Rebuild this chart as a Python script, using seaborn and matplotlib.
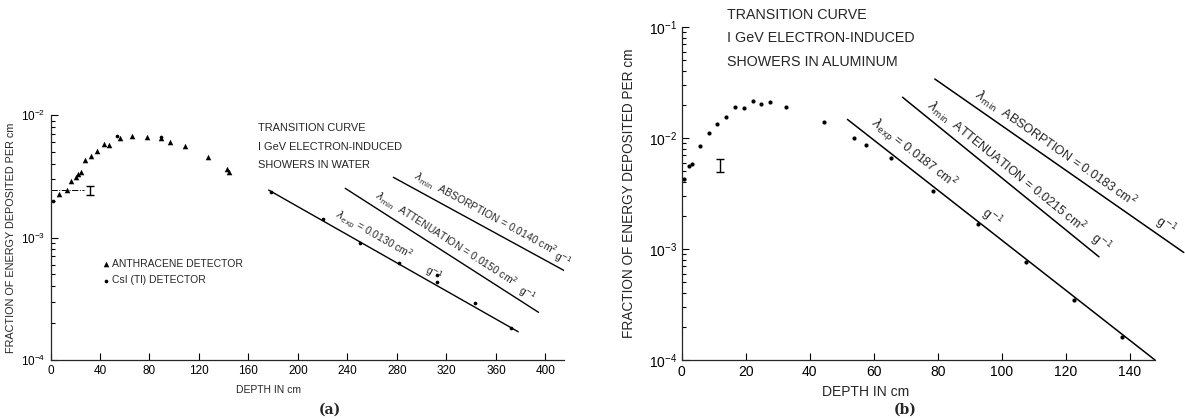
import numpy as np
import pandas as pd
import matplotlib
matplotlib.use("Agg")
import matplotlib.pyplot as plt
import seaborn as sns
from matplotlib.ticker import LogLocator, NullFormatter

# ---- panel (a): water ----
anth_depth = [7.2, 13.2, 16.8, 20.9, 22.2, 24.7, 28.2, 32.9, 37.8, 43.2, 47.6,
              56.3, 65.8, 77.9, 89, 96.4, 108.6, 127.2, 143, 144]
anth_frac = [2.27e-3, 2.44e-3, 2.89e-3, 3.1e-3, 3.3e-3, 3.44e-3, 4.3e-3, 4.66e-3,
             5.1e-3, 5.8e-3, 5.7e-3, 6.5e-3, 6.7e-3, 6.6e-3, 6.5e-3, 6.0e-3,
             5.6e-3, 4.5e-3, 3.6e-3, 3.4e-3]
csi_depth = [2.3, 53.6, 89, 178.2, 219.9, 250.5, 281.8, 312, 312, 343, 372.4]
csi_frac = [2.0e-3, 6.8e-3, 6.6e-3, 2.37e-3, 1.41e-3, 9.1e-4, 6.2e-4, 4.3e-4,
            4.9e-4, 2.9e-4, 1.82e-4]

water_exp_x, water_exp_y = [176.3, 378], [2.44e-3, 1.70e-4]
water_att_x, water_att_y = [238.2, 394.4], [2.52e-3, 2.45e-4]
water_abs_x, water_abs_y = [277.1, 416.8], [3.10e-3, 5.26e-4]
water_err_x, water_err_y, water_err = 31.7, 2.44e-3, 0.2e-3
water_ref_x, water_ref_y = [0, 27], [2.44e-3, 2.44e-3]

# ---- panel (b): aluminum ----
al_depth = [0.8, 2.3, 3.3, 5.8, 8.5, 11.0, 13.8, 16.7, 19.5, 22.2, 24.9, 27.6,
            32.6, 44.4, 53.8, 57.6, 65.4, 78.5, 92.5, 107.5, 122.6, 137.7]
al_frac = [4.27e-3, 5.6e-3, 5.8e-3, 8.4e-3, 1.10e-2, 1.35e-2, 1.55e-2, 1.91e-2,
           1.86e-2, 2.17e-2, 2.01e-2, 2.09e-2, 1.89e-2, 1.38e-2, 1.01e-2, 8.6e-3,
           6.65e-3, 3.35e-3, 1.68e-3, 7.6e-4, 3.47e-4, 1.62e-4]

al_exp_x, al_exp_y = [51.8, 147.9], [1.47e-2, 1.0e-4]
al_att_x, al_att_y = [69.0, 130.4], [2.33e-2, 8.5e-4]
al_abs_x, al_abs_y = [79.1, 156.9], [3.4e-2, 9.3e-4]
al_err_x, al_err_y, al_err = 12.0, 5.7e-3, 0.8e-3

sns.set_style("ticks")
plt.rcParams['font.family'] = ['Liberation Sans', 'DejaVu Sans']
plt.rcParams['mathtext.fontset'] = 'dejavusans'

W, H = 1185, 419
fig = plt.figure(figsize=(W / 100, H / 100), dpi=100)
axa = fig.add_axes([50.5 / W, 59 / H, 513.5 / W, 245 / H])
axb = fig.add_axes([681.7 / W, 59 / H, 473.6 / W, 333 / H])


def style_axis(ax, size):
    ax.set_yscale('log')
    ax.yaxis.set_major_locator(LogLocator(base=10))
    ax.yaxis.set_minor_locator(LogLocator(base=10, subs=np.arange(2, 10)))
    ax.yaxis.set_minor_formatter(NullFormatter())
    ax.tick_params(which='both', direction='in', width=0.8, colors='black',
                   labelsize=size)
    ax.tick_params(which='major', length=5)
    ax.tick_params(which='minor', length=3)
    sns.despine(ax=ax)
    for s in ('left', 'bottom'):
        ax.spines[s].set_linewidth(0.9)


def line_label(ax, xs, ys, depth, text, dist, size):
    ly = 10 ** np.interp(depth, xs, np.log10(ys))
    p0 = ax.transData.transform((xs[0], ys[0]))
    p1 = ax.transData.transform((xs[1], ys[1]))
    ang = np.degrees(np.arctan2(p1[1] - p0[1], p1[0] - p0[0]))
    dx = -np.sin(np.radians(ang)) * dist
    dy = np.cos(np.radians(ang)) * dist
    ax.annotate(text, (depth, ly), xytext=(dx, dy), textcoords='offset points',
                rotation=ang, rotation_mode='anchor', ha='left', va='bottom',
                fontsize=size, annotation_clip=False)


# ---------- panel (a) ----------
axa.set_xlim(0, 415)
axa.set_ylim(1e-4, 1e-2)
style_axis(axa, 8.5)
axa.set_xticks(np.arange(0, 401, 40))

anth = pd.DataFrame({'depth': anth_depth, 'frac': anth_frac})
csi = pd.DataFrame({'depth': csi_depth, 'frac': csi_frac})
sns.scatterplot(data=anth, x='depth', y='frac', marker='^', s=16, color='black',
                edgecolor='black', linewidth=0, ax=axa, label='ANTHRACENE DETECTOR')
sns.scatterplot(data=csi, x='depth', y='frac', marker='o', s=7, color='black',
                edgecolor='black', linewidth=0, ax=axa, label='CsI (Tl) DETECTOR')

for xs, ys in [(water_exp_x, water_exp_y), (water_att_x, water_att_y),
               (water_abs_x, water_abs_y)]:
    axa.plot(xs, ys, color='black', lw=1.0)
axa.plot(water_ref_x, water_ref_y, color='black', lw=0.7, ls='-.')
axa.errorbar(water_err_x, water_err_y, yerr=water_err, fmt='none', ecolor='black',
             elinewidth=1, capsize=3)

line_label(axa, water_exp_x, water_exp_y, 226, r'$\lambda_{\rm exp}$ = 0.0130 cm$^2$', 3, 7.5)
line_label(axa, water_exp_x, water_exp_y, 300, r'g$^{-1}$', 1, 7.5)
line_label(axa, water_att_x, water_att_y, 258, r'$\lambda_{\rm min}$  ATTENUATION = 0.0150 cm$^2$', 3, 7.5)
line_label(axa, water_att_x, water_att_y, 375, r'g$^{-1}$', 1, 7.5)
line_label(axa, water_abs_x, water_abs_y, 290, r'$\lambda_{\rm min}$  ABSORPTION = 0.0140 cm$^2$', 3, 7.5)
line_label(axa, water_abs_x, water_abs_y, 404, r'g$^{-1}$', 1, 7.5)

axa.legend(loc='upper left', bbox_to_anchor=(0.08, 0.45), frameon=False,
           fontsize=7.5, handletextpad=0.1, markerscale=1.0, labelspacing=0.6,
           handlelength=1.0)
axa.set_xlabel('DEPTH IN cm', fontsize=7.5)
axa.xaxis.set_label_coords(0.424, -0.1)
axa.set_ylabel('FRACTION OF ENERGY DEPOSITED PER cm', fontsize=7.8)
axa.yaxis.set_label_coords(-0.068, 0.5)

for i, t in enumerate(['TRANSITION CURVE', 'I GeV ELECTRON-INDUCED', 'SHOWERS IN WATER']):
    fig.text(258 / W, 1 - (128 + 18.5 * i) / H, t, fontsize=7.9, va='center')

# ---------- panel (b) ----------
axb.set_xlim(0, 148)
axb.set_ylim(1e-4, 1e-1)
style_axis(axb, 10)
axb.set_xticks(np.arange(0, 141, 20))

al = pd.DataFrame({'depth': al_depth, 'frac': al_frac})
sns.scatterplot(data=al, x='depth', y='frac', marker='o', s=9, color='black',
                edgecolor='black', linewidth=0, ax=axb, legend=False)
for xs, ys in [(al_exp_x, al_exp_y), (al_att_x, al_att_y), (al_abs_x, al_abs_y)]:
    axb.plot(xs, ys, color='black', lw=1.1, clip_on=False)
axb.errorbar(al_err_x, al_err_y, yerr=al_err, fmt='none', ecolor='black',
             elinewidth=1, capsize=3)

line_label(axb, al_exp_x, al_exp_y, 57, r'$\lambda_{\rm exp}$ = 0.0187 cm$^2$', 2, 9)
line_label(axb, al_exp_x, al_exp_y, 92, r'g$^{-1}$', 1, 9)
line_label(axb, al_att_x, al_att_y, 75, r'$\lambda_{\rm min}$  ATTENUATION = 0.0215 cm$^2$', 2, 9)
line_label(axb, al_att_x, al_att_y, 126, r'g$^{-1}$', 1, 9)
line_label(axb, al_abs_x, al_abs_y, 90, r'$\lambda_{\rm min}$  ABSORPTION = 0.0183 cm$^2$', 2, 9)
line_label(axb, al_abs_x, al_abs_y, 146.5, r'g$^{-1}$', 1, 9)

axb.set_xlabel('DEPTH IN cm', fontsize=10)
axb.xaxis.set_label_coords(0.389, -0.075)
axb.set_ylabel('FRACTION OF ENERGY DEPOSITED PER cm', fontsize=9.8)
axb.yaxis.set_label_coords(-0.097, 0.5)

for i, t in enumerate(['TRANSITION CURVE', 'I GeV ELECTRON-INDUCED', 'SHOWERS IN ALUMINUM']):
    fig.text(727 / W, 1 - (15 + 23.5 * i) / H, t, fontsize=10.3, va='center')

fig.text(330 / W, 1 - 410 / H, '(a)', fontsize=10, ha='center', va='center',
         family='DejaVu Serif', weight='bold')
fig.text(905 / W, 1 - 410 / H, '(b)', fontsize=10, ha='center', va='center',
         family='DejaVu Serif', weight='bold')

fig.savefig('out.png', dpi=100, facecolor='white')
